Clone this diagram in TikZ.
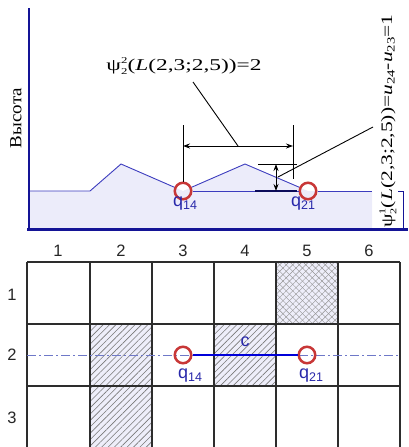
\documentclass[tikz,border=0pt]{standalone}
\usepackage{fontspec}
\setmainfont{Liberation Serif}
\newfontfamily\arialf{Liberation Sans}
\usetikzlibrary{patterns.meta,arrows.meta}
\definecolor{navy}{RGB}{20,20,150}
\definecolor{terr}{RGB}{60,60,190}
\definecolor{fillb}{RGB}{236,236,250}
\definecolor{ringred}{RGB}{200,55,55}
\definecolor{qblue}{RGB}{40,40,170}
\definecolor{dashb}{RGB}{110,120,200}
\definecolor{gridc}{RGB}{45,45,45}
\definecolor{hatchc}{RGB}{120,120,120}
\definecolor{hatchbg}{RGB}{238,238,250}
\newcommand\SupSub[2]{\makebox[0pt][l]{\raisebox{0.9ex}{\fontsize{9}{9}\selectfont #1}}\raisebox{-0.6ex}{\fontsize{9}{9}\selectfont #2}}
\newcommand\Qsub[1]{q\raisebox{-0.3ex}{\fontsize{12.5}{12.5}\selectfont #1}}
\newcommand\Usub[1]{\textit{u}\raisebox{-0.35ex}{\fontsize{11}{11}\selectfont #1}}
\begin{document}
\begin{tikzpicture}[x=1pt,y=-1pt,
  ring/.style={circle,draw=ringred,line width=2.5pt,minimum size=16.5pt,inner sep=0pt},
  qlab/.style={text=qblue,font=\arialf\fontsize{18}{18}\selectfont,inner sep=0pt},
  numlab/.style={font=\arialf\fontsize{16.5}{16.5}\selectfont,text=black!85,inner sep=0pt},
  dimline/.style={black,line width=0.9pt},
  dimarrow/.style={black,line width=0.9pt,{Stealth[length=7pt,width=5pt]}-{Stealth[length=7pt,width=5pt]}},
  gridline/.style={gridc,line width=1.2pt},
  axisline/.style={navy,line width=2.4pt}]
\useasboundingbox (0,0) rectangle (408,447);
% ---------- top panel ----------
\fill[fillb] (29,191) -- (90,191) -- (121,164) -- (183,191) -- (245,164) -- (308,191) -- (372,191) -- (372,229) -- (29,229) -- cycle;
\coordinate (t0) at (29,191);
\coordinate (t1) at (90,191);
\coordinate (t2) at (121,164);
\coordinate (t3) at (245,164);
\coordinate (tend) at (372,191);
\node[ring] (p14) at (183,191) {};
\node[ring] (p21) at (308,191) {};
\draw[terr,line width=0.9pt] (t0) -- (t1) -- (t2) -- (p14);
\draw[terr,line width=0.9pt] (p14) -- (t3) -- (p21);
\draw[terr,line width=0.9pt] (p14) -- (p21);
\draw[terr,line width=0.9pt] (p21) -- (tend);
\draw[navy,line width=1pt] (398,191) -- (403,191) -- (403,229);
\draw[axisline] (29,8) -- (29,229);
\draw[axisline] (27,229.5) -- (408,229.5);
\node[qlab] (lq14) at (185,204) {\Qsub{14}};
\node[qlab] (lq21) at (303,204) {\Qsub{21}};
% horizontal dimension
\coordinate (e1t) at (183,125);
\coordinate (e1b) at (183,182);
\coordinate (e2t) at (293,125);
\coordinate (e2b) at (293,179);
\coordinate (a1) at (183,146);
\coordinate (a2) at (293,146);
\draw[dimline] (e1t) -- (e1b);
\draw[dimline] (e2t) -- (e2b);
\draw[dimarrow] (a1) -- (a2);
\node[inner sep=0pt] (lab2) at (184,66) {\resizebox{155pt}{\height}{\fontsize{16.5}{18}\selectfont ψ\SupSub{2}{2}(\textit{L}(2,3;2,5))=2}};
\coordinate (l2a) at (193,82);
\coordinate (l2b) at (238,146);
\draw[dimline] (l2a) -- (l2b);
% height dimension
\coordinate (h1a) at (258,164);
\coordinate (h1b) at (297,164);
\coordinate (h2a) at (255,191);
\coordinate (h2b) at (297,191);
\coordinate (ha) at (276,164);
\coordinate (hb) at (276,191);
\draw[dimline] (h1a) -- (h1b);
\draw[navy!60!black,line width=1.4pt] (h2a) -- (h2b);
\draw[dimarrow] (ha) -- (hb);
\coordinate (l1a) at (278,177);
\coordinate (l1b) at (373,127);
\draw[dimline] (l1a) -- (l1b);
\node[inner sep=0pt,rotate=90] (lab1) at (388,121) {\resizebox{213pt}{\height}{\fontsize{16}{17}\selectfont ψ\SupSub{1}{2}(\textit{L}(2,3;2,5))=\Usub{24}-\Usub{23}=1}};
\node[inner sep=0pt,rotate=90] (ylab) at (16,118) {\resizebox{60pt}{\height}{\fontsize{17}{18}\selectfont Высота}};
% ---------- bottom grid ----------
\fill[hatchbg] (90,324) rectangle (152,447);
\fill[pattern={Lines[angle=45,distance=4.5pt,line width=0.6pt]},pattern color=hatchc] (90,324) rectangle (152,447);
\fill[hatchbg] (214,324) rectangle (276,386);
\fill[pattern={Lines[angle=45,distance=4.5pt,line width=0.6pt]},pattern color=hatchc] (214,324) rectangle (276,386);
\fill[hatchbg] (276,262) rectangle (338,324);
\fill[pattern={Lines[angle=45,distance=4.6pt,line width=0.5pt]},pattern color=hatchc!80] (276,262) rectangle (338,324);
\fill[pattern={Lines[angle=-45,distance=4.6pt,line width=0.5pt]},pattern color=hatchc!80] (276,262) rectangle (338,324);
\foreach \x in {27,90,152,214,276,338,400} \draw[gridline] (\x,262) -- (\x,447);
\foreach \y in {262,324,386} \draw[gridline] (27,\y) -- (400,\y);
\foreach \i/\x in {1/58,2/121,3/183,4/245,5/307,6/369} \node[numlab] (c\i) at (\x,251) {\i};
\foreach \i/\y in {1/295,2/355,3/418} \node[numlab] (r\i) at (12,\y) {\i};
\draw[dashb,line width=1pt,dash pattern=on 9pt off 3pt on 2pt off 3pt] (27,355) -- (400,355);
\node[ring] (g14) at (183,355) {};
\node[ring] (g21) at (307,355) {};
\draw[blue!85!black,line width=2pt] (g14) -- (g21);
\node[qlab] (lc) at (245,342) {c};
\node[qlab] (lg14) at (190,376) {\Qsub{14}};
\node[qlab] (lg21) at (311,376) {\Qsub{21}};
\end{tikzpicture}
\end{document}
